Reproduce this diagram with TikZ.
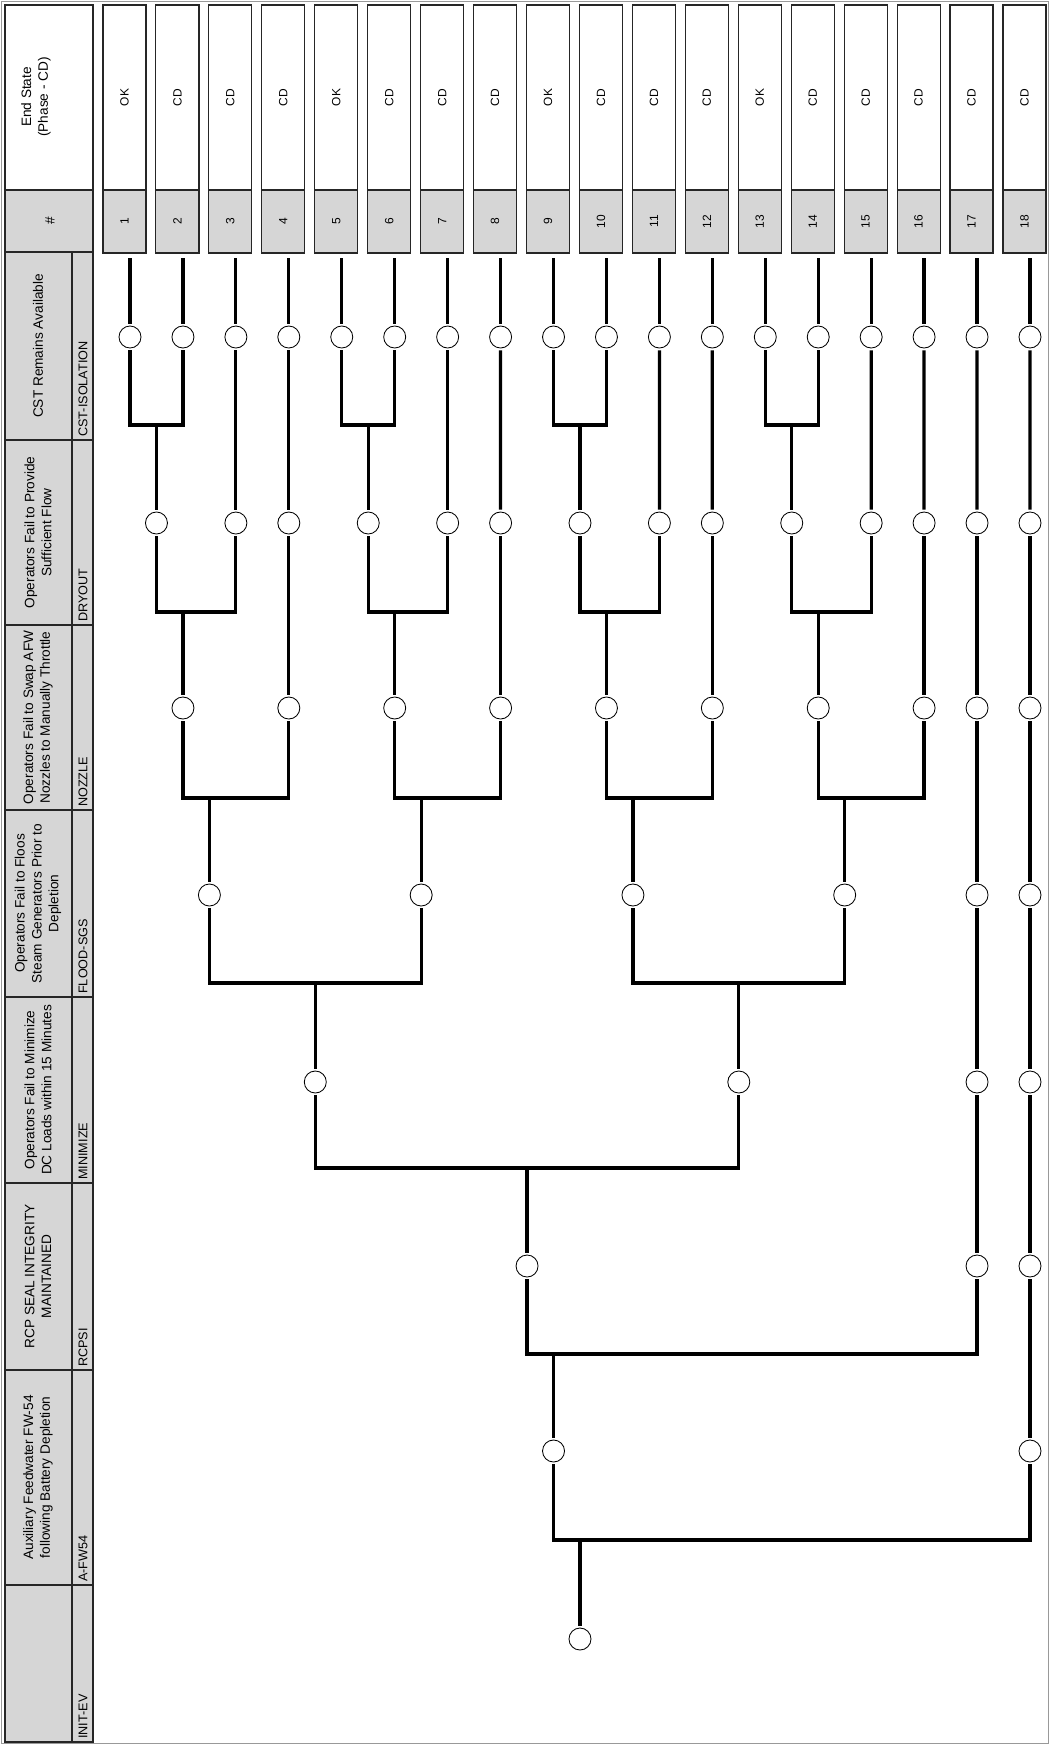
\documentclass[tikz,border=0pt]{standalone}
\usepackage{fontspec}
\setmainfont{Liberation Sans}
\tikzset{
  branch/.style={line width=2.3pt},
  ball/.style={circle,draw,line width=0.6pt,fill=white,minimum size=0.55cm,inner sep=0pt,outer sep=0.06cm},
  cellbox/.style={draw=black!85,line width=0.8pt},
  shadebox/.style={cellbox,fill=black!16},
  statebox/.style={cellbox,fill=white,rotate=90,minimum width=4.625cm,minimum height=1.075cm,inner sep=0pt,font=\fontsize{8.5}{10}\selectfont},
  numbox/.style={shadebox,rotate=90,minimum width=1.575cm,minimum height=1.075cm,inner sep=0pt,font=\fontsize{8.5}{10}\selectfont},
  headtext/.style={rotate=90,align=center,inner sep=0pt,font=\fontsize{9.7}{12}\selectfont},
  codetext/.style={rotate=90,anchor=west,inner sep=0pt,font=\fontsize{9}{10}\selectfont},
}
% branch point: upper child, lower child, parent, y of the joining bar
\newcommand{\evfork}[4]{\draw[branch] (#1) |- (#3 |- 0,#4) -| (#2); \draw[branch] (#3 |- 0,#4) -- (#3);}

\begin{document}
\begin{tikzpicture}[x=0.025cm,y=-0.025cm]
  \useasboundingbox (0,0) rectangle (1049,1744);
  \draw[black!40,line width=0.4pt] (1,1) rectangle (1048,1743);

  % header
  \draw[cellbox,fill=white] (5,5) rectangle (93,190);
  \node[headtext] (endhead) at (36,97) {End State\\(Phase - CD)};
  \draw[shadebox] (5,190) rectangle (93,252);
  \node[headtext] (numhead) at (50,221) {\#};
  \foreach \t/\b/\c/\h [count=\k] in {
      252/440/CST-ISOLATION/CST Remains Available,
      440/625/DRYOUT/Operators Fail to Provide\\Sufficient Flow,
      625/810/NOZZLE/Operators Fail to Swap AFW\\Nozzles to Manually Throttle,
      810/997/FLOOD-SGS/Operators Fail to Floos\\Steam Generators Prior to\\Depletion,
      997/1183/MINIMIZE/Operators Fail to Minimize\\DC Loads within 15 Minutes,
      1183/1370/RCPSI/RCP SEAL INTEGRITY\\MAINTAINED,
      1370/1585/A-FW54/Auxiliary Feedwater FW-54\\following Battery Depletion,
      1585/1742/INIT-EV/{}}{
    \draw[shadebox] (5,\t) rectangle (72,\b);
    \draw[shadebox] (72,\t) rectangle (93,\b);
    \node[headtext] (head\k) at (38,{(\t+\b)/2}) {\h};
    \node[codetext] (code\k) at (83,\b-3) {\c};
  }

  % end states and first column
  \foreach \st [count=\s] in {OK,CD,CD,CD,OK,CD,CD,CD,OK,CD,CD,CD,OK,CD,CD,CD,CD,CD}{
    \pgfmathsetmacro\lx{130+52.94*(\s-1)}
    \node[statebox] (end\s) at (\lx-5.5,97.5) {\st};
    \node[numbox] (seq\s) at (\lx-5.5,221.5) {\s};
    \node[ball] (cst\s) at (\lx,337) {};
    \draw[branch,shorten >=0.12cm] (cst\s) -- (cst\s |- seq\s.west);
  }

  % branch points
  \foreach \n/\x in {dry1/156.47,dry3/235.88,dry4/288.82,dry5/368.23,dry7/447.64,dry8/500.58,dry9/579.99,
      dry11/659.4,dry12/712.34,dry13/791.75,dry15/871.16,dry16/924.1,dry17/977.04,dry18/1029.98}
    \node[ball] (\n) at (\x,523) {};
  \foreach \n/\x in {noz1/182.94,noz4/288.82,noz5/394.7,noz8/500.58,noz9/606.46,noz12/712.34,
      noz13/818.22,noz16/924.1,noz17/977.04,noz18/1029.98}
    \node[ball] (\n) at (\x,708) {};
  \foreach \n/\x in {fld1/209.41,fld5/421.17,fld9/632.93,fld13/844.69,fld17/977.04,fld18/1029.98}
    \node[ball] (\n) at (\x,895) {};
  \foreach \n/\x in {min1/315.29,min9/738.81,min17/977.04,min18/1029.98}
    \node[ball] (\n) at (\x,1082) {};
  \foreach \n/\x in {rcp1/527.05,rcp17/977.04,rcp18/1029.98}
    \node[ball] (\n) at (\x,1266) {};
  \node[ball] (afw1) at (553.52,1451) {};
  \node[ball] (afw18) at (1029.98,1451) {};
  \node[ball] (init) at (579.99,1639) {};

  % straight passes
  \foreach \u/\v in {cst3/dry3,cst4/dry4,cst7/dry7,cst8/dry8,cst11/dry11,cst12/dry12,cst15/dry15,
      cst16/dry16,cst17/dry17,cst18/dry18,dry4/noz4,dry8/noz8,dry12/noz12,dry16/noz16,dry17/noz17,
      dry18/noz18,noz17/fld17,noz18/fld18,fld17/min17,fld18/min18,min17/rcp17,min18/rcp18,rcp18/afw18}
    \draw[branch] (\u) -- (\v);

  % forks
  \evfork{cst1}{cst2}{dry1}{425}
  \evfork{cst5}{cst6}{dry5}{425}
  \evfork{cst9}{cst10}{dry9}{425}
  \evfork{cst13}{cst14}{dry13}{425}
  \evfork{dry1}{dry3}{noz1}{612}
  \evfork{dry5}{dry7}{noz5}{612}
  \evfork{dry9}{dry11}{noz9}{612}
  \evfork{dry13}{dry15}{noz13}{612}
  \evfork{noz1}{noz4}{fld1}{798}
  \evfork{noz5}{noz8}{fld5}{798}
  \evfork{noz9}{noz12}{fld9}{798}
  \evfork{noz13}{noz16}{fld13}{798}
  \evfork{fld1}{fld5}{min1}{983}
  \evfork{fld9}{fld13}{min9}{983}
  \evfork{min1}{min9}{rcp1}{1168}
  \evfork{rcp1}{rcp17}{afw1}{1354}
  \evfork{afw1}{afw18}{init}{1540}
\end{tikzpicture}
\end{document}
